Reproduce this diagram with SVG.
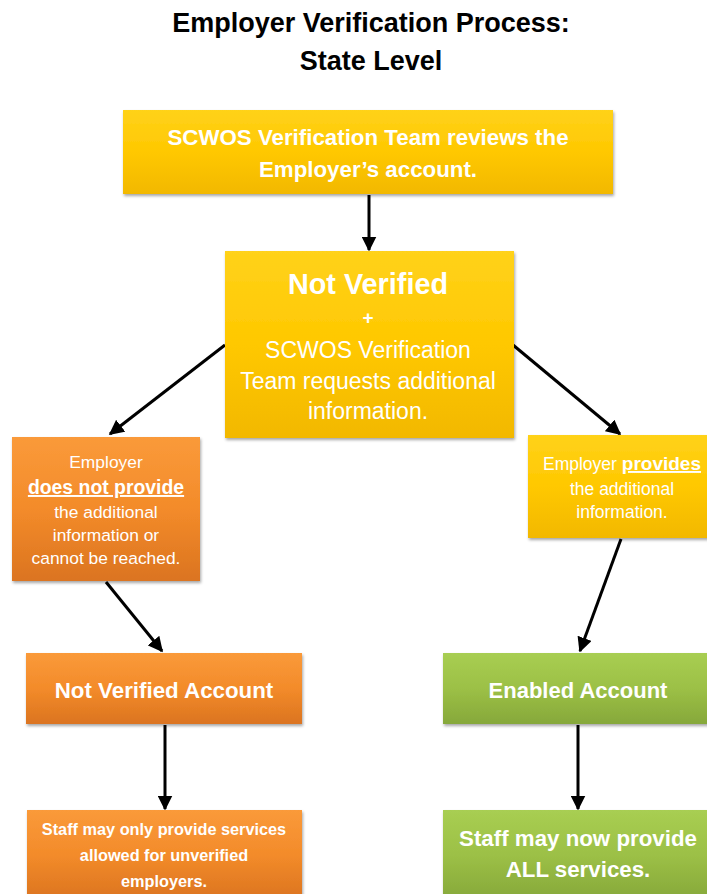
<svg xmlns="http://www.w3.org/2000/svg" width="707" height="894" viewBox="0 0 707 894">
<defs>
<linearGradient id="gGold" x1="0" y1="0" x2="0" y2="1">
<stop offset="0" stop-color="#FFD21A"/><stop offset="0.5" stop-color="#FFC800"/><stop offset="1" stop-color="#F2B800"/>
</linearGradient>
<linearGradient id="gOrange" x1="0" y1="0" x2="0" y2="1">
<stop offset="0" stop-color="#FA9A3A"/><stop offset="0.5" stop-color="#F38B2A"/><stop offset="1" stop-color="#DB7420"/>
</linearGradient>
<linearGradient id="gGreen" x1="0" y1="0" x2="0" y2="1">
<stop offset="0" stop-color="#A8CE52"/><stop offset="0.5" stop-color="#9CC046"/><stop offset="1" stop-color="#86A83A"/>
</linearGradient>
<filter id="sh" x="-5%" y="-5%" width="115%" height="120%">
<feDropShadow dx="1" dy="2" stdDeviation="1.5" flood-color="#000" flood-opacity="0.35"/>
</filter>
<marker id="ah" viewBox="0 0 10 10" refX="9" refY="5" markerWidth="5" markerHeight="5" orient="auto" markerUnits="strokeWidth">
<path d="M0,0 L10,5 L0,10 z" fill="#000"/>
</marker>
</defs>
<style>
.t{font-family:"Liberation Sans","Open Sans",Arial,sans-serif;fill:#fff;text-anchor:middle}
.b{font-weight:bold}
.title{font-family:"Liberation Sans","Open Sans",Arial,sans-serif;fill:#000;font-weight:bold;text-anchor:middle;font-size:27px}
.c{stroke:#000;stroke-width:3;fill:none;marker-end:url(#ah)}
.box{filter:url(#sh)}
</style>
<g id="title">
<text class="title" x="371" y="32">Employer Verification Process:</text>
<text class="title" x="371" y="70">State Level</text>
</g>
<g id="connectors">
<line class="c" x1="369" y1="195" x2="369" y2="250"/>
<line class="c" x1="225" y1="345" x2="110" y2="434"/>
<line class="c" x1="513" y1="345" x2="620" y2="434"/>
<line class="c" x1="106" y1="582" x2="162" y2="651"/>
<line class="c" x1="621" y1="539" x2="580" y2="651"/>
<line class="c" x1="165" y1="725" x2="165" y2="809"/>
<line class="c" x1="578" y1="725" x2="578" y2="809"/>
</g>
<g id="n1">
<rect class="box" x="123" y="110" width="490" height="84" fill="url(#gGold)"/>
<text class="t b" x="368" y="145" font-size="22.3">SCWOS Verification Team reviews the</text>
<text class="t b" x="368" y="177" font-size="22.3">Employer’s account.</text>
</g>
<g id="n2">
<rect class="box" x="225" y="251" width="289" height="187" fill="url(#gGold)"/>
<text class="t b" x="368" y="294" font-size="28.8">Not Verified</text>
<text class="t b" x="368" y="324" font-size="19">+</text>
<text class="t" x="368" y="358" font-size="23">SCWOS Verification</text>
<text class="t" x="368" y="389" font-size="23">Team requests additional</text>
<text class="t" x="368" y="419" font-size="23">information.</text>
</g>
<g id="n3">
<rect class="box" x="12" y="437" width="188" height="144" fill="url(#gOrange)"/>
<text class="t" x="106" y="468" font-size="17.4">Employer</text>
<text class="t b" x="106" y="494" font-size="19.4" text-decoration="underline">does not provide</text>
<text class="t" x="106" y="518" font-size="17.4">the additional</text>
<text class="t" x="106" y="541" font-size="17.4">information or</text>
<text class="t" x="106" y="564" font-size="17.4">cannot be reached.</text>
</g>
<g id="n4">
<rect class="box" x="528" y="435" width="185" height="103" fill="url(#gGold)"/>
<text class="t" x="622" y="470" font-size="17.5">Employer <tspan class="b" font-size="19" text-decoration="underline">provides</tspan></text>
<text class="t" x="622" y="495" font-size="17.5">the additional</text>
<text class="t" x="622" y="518" font-size="17.5">information.</text>
</g>
<g id="n5">
<rect class="box" x="26" y="653" width="276" height="71" fill="url(#gOrange)"/>
<text class="t b" x="164" y="698" font-size="22.3">Not Verified Account</text>
</g>
<g id="n6">
<rect class="box" x="443" y="653" width="270" height="71" fill="url(#gGreen)"/>
<text class="t b" x="578" y="698" font-size="22">Enabled Account</text>
</g>
<g id="n7">
<rect class="box" x="27" y="810" width="275" height="90" fill="url(#gOrange)"/>
<text class="t b" x="164" y="835" font-size="16.3">Staff may only provide services</text>
<text class="t b" x="164" y="861" font-size="16.3">allowed for unverified</text>
<text class="t b" x="164" y="887" font-size="16.3">employers.</text>
</g>
<g id="n8">
<rect class="box" x="443" y="810" width="270" height="90" fill="url(#gGreen)"/>
<text class="t b" x="578" y="846" font-size="22.3">Staff may now provide</text>
<text class="t b" x="578" y="877" font-size="22.3">ALL services.</text>
</g>
</svg>
